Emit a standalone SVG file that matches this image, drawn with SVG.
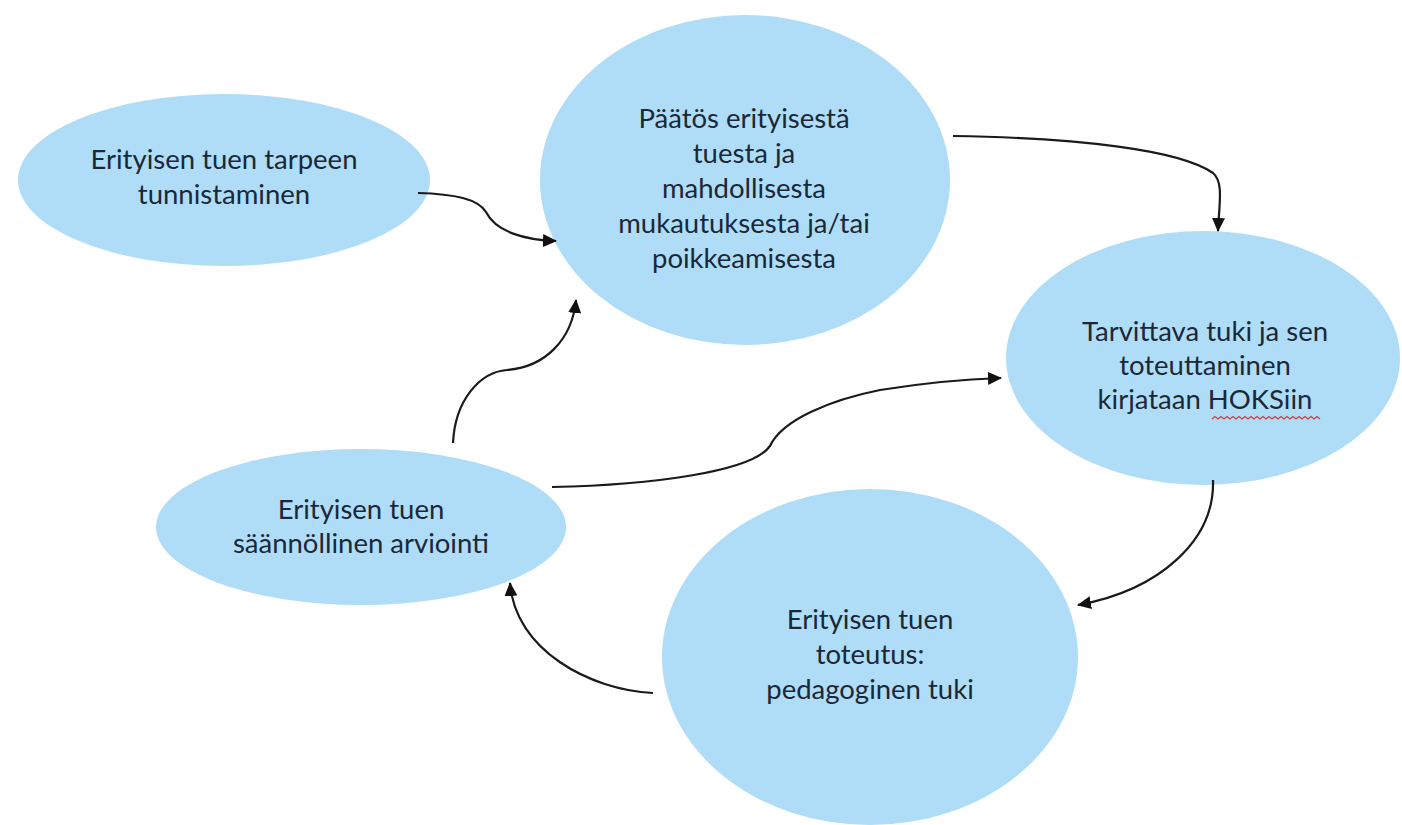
<svg xmlns="http://www.w3.org/2000/svg" width="1402" height="825" viewBox="0 0 1402 825">
<style>
.node{fill:#afddf7;}
.lbl{font-family:Lato,"Liberation Sans",sans-serif;font-size:27.5px;fill:#1a2838;text-anchor:middle;}
.conn{fill:none;stroke:#1a1a1a;stroke-width:2.2;marker-end:url(#ah);}
</style>
<defs>
<marker id="ah" markerUnits="userSpaceOnUse" markerWidth="15" markerHeight="13" refX="13" refY="6.5" orient="auto">
<path d="M0,0 L14,6.5 L0,13 Z" fill="#111"/>
</marker>
</defs>
<rect width="1402" height="825" fill="#fff"/>
<g id="n1">
<ellipse class="node" cx="224" cy="180" rx="206" ry="86"/>
<text class="lbl" x="224" y="169">Erityisen tuen tarpeen</text>
<text class="lbl" x="224" y="204">tunnistaminen</text>
</g>
<g id="n2">
<ellipse class="node" cx="745" cy="180" rx="205" ry="165"/>
<text class="lbl" x="744" y="128">Päätös erityisestä</text>
<text class="lbl" x="744" y="163">tuesta ja</text>
<text class="lbl" x="744" y="198">mahdollisesta</text>
<text class="lbl" x="744" y="233">mukautuksesta ja/tai</text>
<text class="lbl" x="744" y="268">poikkeamisesta</text>
</g>
<g id="n3">
<ellipse class="node" cx="1203" cy="358" rx="197" ry="127"/>
<text class="lbl" x="1205" y="341">Tarvittava tuki ja sen</text>
<text class="lbl" x="1205" y="375">toteuttaminen</text>
<text class="lbl" x="1205" y="409">kirjataan HOKSiin</text>
<path d="M1212,419 l3,-2.5 l3,2.5 l3,-2.5 l3,2.5 l3,-2.5 l3,2.5 l3,-2.5 l3,2.5 l3,-2.5 l3,2.5 l3,-2.5 l3,2.5 l3,-2.5 l3,2.5 l3,-2.5 l3,2.5 l3,-2.5 l3,2.5 l3,-2.5 l3,2.5 l3,-2.5 l3,2.5 l3,-2.5 l3,2.5 l3,-2.5 l3,2.5 l3,-2.5 l3,2.5 l3,-2.5 l3,2.5 l3,-2.5 l3,2.5 l3,-2.5 l3,2.5 l3,-2.5 l3,2.5" fill="none" stroke="#d43c3c" stroke-width="1.2"/>
</g>
<g id="n4">
<ellipse class="node" cx="870" cy="657" rx="208" ry="168"/>
<text class="lbl" x="870" y="629">Erityisen tuen</text>
<text class="lbl" x="870" y="664">toteutus:</text>
<text class="lbl" x="870" y="699">pedagoginen tuki</text>
</g>
<g id="n5">
<ellipse class="node" cx="361" cy="527" rx="205" ry="78"/>
<text class="lbl" x="361" y="519">Erityisen tuen</text>
<text class="lbl" x="361" y="553">säännöllinen arviointi</text>
</g>
<g id="connectors">
<path class="conn" d="M418,193 C455,194 478,199 486,212 C496,232 525,240 556,241"/>
<path class="conn" d="M953,136 C1080,138 1180,150 1213,173 C1224,182 1219,205 1218,231"/>
<path class="conn" d="M1213,480 C1215,540 1160,590 1078,605"/>
<path class="conn" d="M653,693 C590,690 515,650 510,583"/>
<path class="conn" d="M453,443 C455,400 480,372 507,370 C545,367 572,340 576,300"/>
<path class="conn" d="M552,487 C650,485 752,472 770,446 C782,420 830,400 880,390 C930,382 970,379 1001,378"/>
</g>
</svg>
